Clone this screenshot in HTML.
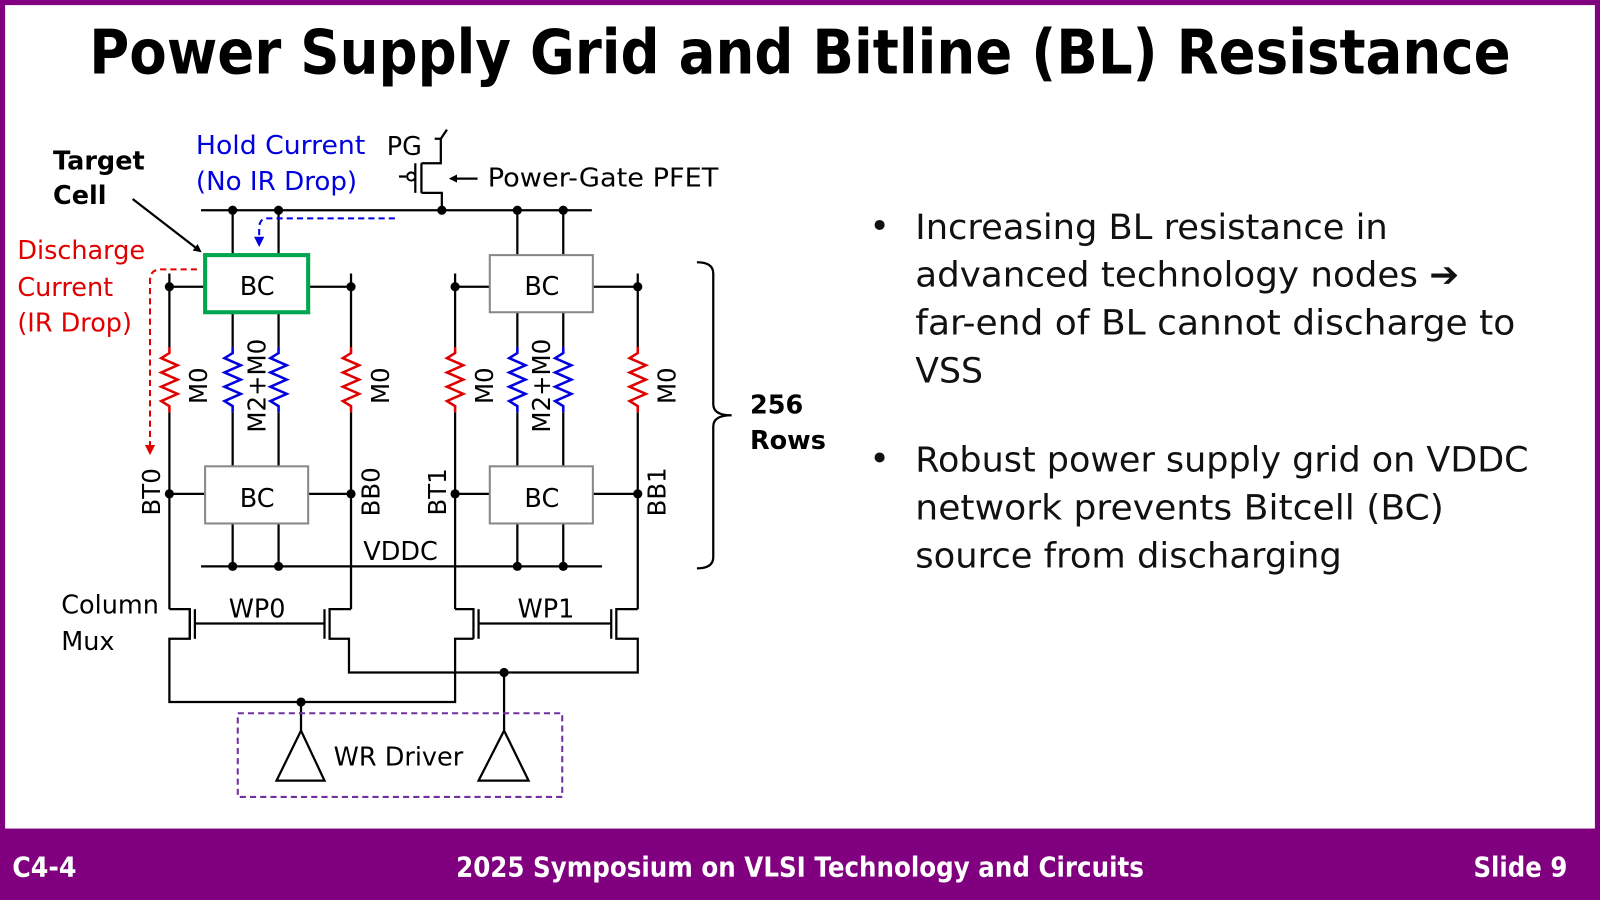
<!DOCTYPE html>
<html><head><meta charset="utf-8"><style>
html,body{margin:0;padding:0;background:#fff;}
svg{display:block;}
text{font-family:"DejaVu Sans","Liberation Sans",sans-serif;}
</style></head><body>
<svg width="1600" height="900" viewBox="0 0 1568 882" preserveAspectRatio="none" xmlns="http://www.w3.org/2000/svg">
<defs>
<path id="res" d="M0,-32 L0,-26 L-8,-21 L8,-14 L-8,-7 L8,0 L-8,7 L8,14 L-8,21 L0,26 L0,32" fill="none" stroke-width="2.5"/>
<marker id="ab" markerWidth="8" markerHeight="8" refX="6" refY="4" orient="auto" markerUnits="userSpaceOnUse"><path d="M0,0 L8,4 L0,8 z" fill="#000"/></marker>
<marker id="ar" markerWidth="10" markerHeight="10" refX="8" refY="5" orient="auto" markerUnits="userSpaceOnUse"><path d="M0,0 L10,5 L0,10 z" fill="#e00000"/></marker>
<marker id="abl" markerWidth="10" markerHeight="10" refX="8" refY="5" orient="auto" markerUnits="userSpaceOnUse"><path d="M0,0 L10,5 L0,10 z" fill="#0000e0"/></marker>
</defs>
<rect x="0" y="0" width="1568" height="882" fill="#800080"/>
<rect x="5" y="5" width="1558" height="807" fill="#fff"/>
<text x="784" y="72" font-size="60" font-weight="bold" text-anchor="middle" textLength="1393" lengthAdjust="spacingAndGlyphs">Power Supply Grid and Bitline (BL) Resistance</text>

<g stroke="#000" stroke-width="2.2" fill="none">
<line x1="197" y1="206" x2="580" y2="206"/>
<line x1="197" y1="555" x2="590" y2="555"/>
<path d="M433,206 L433,189 L413,189"/>
<line x1="413" y1="160" x2="413" y2="189"/>
<line x1="407" y1="160" x2="407" y2="189"/>
<path d="M413,160 L432,160 L432,136 L426,136 M432,136 L438,127"/>
<line x1="391" y1="173" x2="398" y2="173"/>
<line x1="468" y1="175" x2="442" y2="175" marker-end="url(#ab)"/>
<line x1="228" y1="206" x2="228" y2="250"/><line x1="273" y1="206" x2="273" y2="250"/>
<line x1="507" y1="206" x2="507" y2="250"/><line x1="552" y1="206" x2="552" y2="250"/>
<line x1="228" y1="306" x2="228" y2="340"/><line x1="273" y1="306" x2="273" y2="340"/>
<line x1="507" y1="306" x2="507" y2="340"/><line x1="552" y1="306" x2="552" y2="340"/>
<line x1="228" y1="404" x2="228" y2="457"/><line x1="273" y1="404" x2="273" y2="457"/>
<line x1="507" y1="404" x2="507" y2="457"/><line x1="552" y1="404" x2="552" y2="457"/>
<line x1="228" y1="513" x2="228" y2="555"/><line x1="273" y1="513" x2="273" y2="555"/>
<line x1="507" y1="513" x2="507" y2="555"/><line x1="552" y1="513" x2="552" y2="555"/>
<line x1="166" y1="268" x2="166" y2="340"/><line x1="344" y1="268" x2="344" y2="340"/>
<line x1="446" y1="268" x2="446" y2="340"/><line x1="625" y1="268" x2="625" y2="340"/>
<line x1="166" y1="404" x2="166" y2="597"/><line x1="344" y1="404" x2="344" y2="597"/>
<line x1="446" y1="404" x2="446" y2="597"/><line x1="625" y1="404" x2="625" y2="597"/>
<line x1="166" y1="281" x2="200" y2="281"/><line x1="303" y1="281" x2="344" y2="281"/>
<line x1="446" y1="281" x2="480" y2="281"/><line x1="581" y1="281" x2="625" y2="281"/>
<line x1="166" y1="484" x2="201" y2="484"/><line x1="302" y1="484" x2="344" y2="484"/>
<line x1="446" y1="484" x2="480" y2="484"/><line x1="581" y1="484" x2="625" y2="484"/>
<path d="M166,597 L186,597 L186,626 L166,626 L166,688 L446,688 L446,626 L464,626"/>
<line x1="186" y1="597" x2="186" y2="626"/>
<line x1="191" y1="597" x2="191" y2="626"/>
<line x1="191" y1="611" x2="318" y2="611"/>
<line x1="318" y1="597" x2="318" y2="626"/>
<path d="M344,597 L323,597 L323,626 L342,626 L342,659 L625,659 L625,626 L604,626 L604,597 L625,597"/>
<path d="M446,597 L464,597 L464,626"/>
<line x1="469" y1="597" x2="469" y2="626"/>
<line x1="469" y1="611" x2="599" y2="611"/>
<line x1="599" y1="597" x2="599" y2="626"/>
<line x1="295" y1="688" x2="295" y2="716"/>
<line x1="494" y1="659" x2="494" y2="716"/>
<path d="M295,716 L271,765 L318,765 Z"/>
<path d="M494,716 L469,765 L518,765 Z"/>
<line x1="130" y1="195" x2="196" y2="246" marker-end="url(#ab)"/>
<path d="M683,257 Q699,257 699,268 L699,396 Q699,407 717,407 Q699,407 699,418 L699,546 Q699,557 683,557"/>
</g>
<g fill="#000">
<circle cx="228" cy="206" r="4.5"/><circle cx="273" cy="206" r="4.5"/><circle cx="433" cy="206" r="4.5"/><circle cx="507" cy="206" r="4.5"/><circle cx="552" cy="206" r="4.5"/>
<circle cx="228" cy="555" r="4.5"/><circle cx="273" cy="555" r="4.5"/><circle cx="507" cy="555" r="4.5"/><circle cx="552" cy="555" r="4.5"/>
<circle cx="166" cy="281" r="4.5"/><circle cx="344" cy="281" r="4.5"/><circle cx="446" cy="281" r="4.5"/><circle cx="625" cy="281" r="4.5"/>
<circle cx="166" cy="484" r="4.5"/><circle cx="344" cy="484" r="4.5"/><circle cx="446" cy="484" r="4.5"/><circle cx="625" cy="484" r="4.5"/>
<circle cx="295" cy="688" r="4.5"/><circle cx="494" cy="659" r="4.5"/>
<circle cx="403" cy="173" r="4" fill="#fff" stroke="#000" stroke-width="2"/>
</g>
<g stroke="#e00000"><use href="#res" x="166" y="372"/><use href="#res" x="344" y="372"/><use href="#res" x="446" y="372"/><use href="#res" x="625" y="372"/></g>
<g stroke="#0000e0"><use href="#res" x="228" y="372"/><use href="#res" x="273" y="372"/><use href="#res" x="507" y="372"/><use href="#res" x="552" y="372"/></g>
<rect x="201" y="250" width="101" height="56" fill="#fff" stroke="#00a550" stroke-width="4"/>
<rect x="480" y="250" width="101" height="56" fill="#fff" stroke="#888" stroke-width="2"/>
<rect x="201" y="457" width="101" height="56" fill="#fff" stroke="#888" stroke-width="2"/>
<rect x="480" y="457" width="101" height="56" fill="#fff" stroke="#888" stroke-width="2"/>
<g font-size="25" text-anchor="middle">
<text x="252" y="289">BC</text><text x="531" y="289">BC</text><text x="252" y="497">BC</text><text x="531" y="497">BC</text>
</g>
<path d="M193,264 L158,264 Q147,264 147,275 L147,444" fill="none" stroke="#e00000" stroke-width="2" stroke-dasharray="6,4" marker-end="url(#ar)"/>
<path d="M387,214 L262,214 Q254,214 254,224 L254,240" fill="none" stroke="#0000e0" stroke-width="2" stroke-dasharray="6,4" marker-end="url(#abl)"/>
<rect x="233" y="699" width="318" height="82" fill="none" stroke="#7030a0" stroke-width="2" stroke-dasharray="6,4"/>
<g font-size="24">
<text transform="translate(203,378) rotate(-90)" text-anchor="middle">M0</text>
<text transform="translate(381,378) rotate(-90)" text-anchor="middle">M0</text>
<text transform="translate(483,378) rotate(-90)" text-anchor="middle">M0</text>
<text transform="translate(662,378) rotate(-90)" text-anchor="middle">M0</text>
<text transform="translate(260,378) rotate(-90)" text-anchor="middle">M2+M0</text>
<text transform="translate(539,378) rotate(-90)" text-anchor="middle">M2+M0</text>
<text transform="translate(157,482) rotate(-90)" text-anchor="middle">BT0</text>
<text transform="translate(372,482) rotate(-90)" text-anchor="middle">BB0</text>
<text transform="translate(437,482) rotate(-90)" text-anchor="middle">BT1</text>
<text transform="translate(652,482) rotate(-90)" text-anchor="middle">BB1</text>
</g>
<g font-size="25">
<text x="356" y="549">VDDC</text>
<text x="252" y="605" text-anchor="middle">WP0</text>
<text x="535" y="605" text-anchor="middle">WP1</text>
<text x="60" y="601">Column</text>
<text x="60" y="637">Mux</text>
<text x="327" y="750">WR Driver</text>
<text x="379" y="152">PG</text>
<text x="478" y="183" textLength="226" lengthAdjust="spacingAndGlyphs">Power-Gate PFET</text>
<text x="52" y="166" font-weight="bold">Target</text>
<text x="52" y="200" font-weight="bold">Cell</text>
<text x="735" y="405" font-weight="bold">256</text>
<text x="735" y="440" font-weight="bold">Rows</text>
</g>
<g font-size="25" fill="#e00000">
<text x="17" y="254">Discharge</text><text x="17" y="290">Current</text><text x="17" y="325">(IR Drop)</text>
</g>
<g font-size="25" fill="#0000e0">
<text x="192" y="151" textLength="166" lengthAdjust="spacingAndGlyphs">Hold Current</text><text x="192" y="186" textLength="158" lengthAdjust="spacingAndGlyphs">(No IR Drop)</text>
</g>
<g font-size="34" fill="#111">
<text x="852" y="233">•</text>
<text x="897" y="234" textLength="463" lengthAdjust="spacingAndGlyphs">Increasing BL resistance in</text>
<text x="897" y="281" textLength="533" lengthAdjust="spacingAndGlyphs">advanced technology nodes ➔</text>
<text x="897" y="328" textLength="588" lengthAdjust="spacingAndGlyphs">far-end of BL cannot discharge to</text>
<text x="897" y="375">VSS</text>
<text x="852" y="461">•</text>
<text x="897" y="462" textLength="601" lengthAdjust="spacingAndGlyphs">Robust power supply grid on VDDC</text>
<text x="897" y="509" textLength="518" lengthAdjust="spacingAndGlyphs">network prevents Bitcell (BC)</text>
<text x="897" y="556" textLength="418" lengthAdjust="spacingAndGlyphs">source from discharging</text>
</g>
<g font-size="27" font-weight="bold" fill="#fff">
<text x="12" y="859" textLength="63" lengthAdjust="spacingAndGlyphs">C4-4</text>
<text x="784" y="859" text-anchor="middle" textLength="674" lengthAdjust="spacingAndGlyphs">2025 Symposium on VLSI Technology and Circuits</text>
<text x="1536" y="859" text-anchor="end" textLength="92" lengthAdjust="spacingAndGlyphs">Slide 9</text>
</g>
</svg>
</body></html>
